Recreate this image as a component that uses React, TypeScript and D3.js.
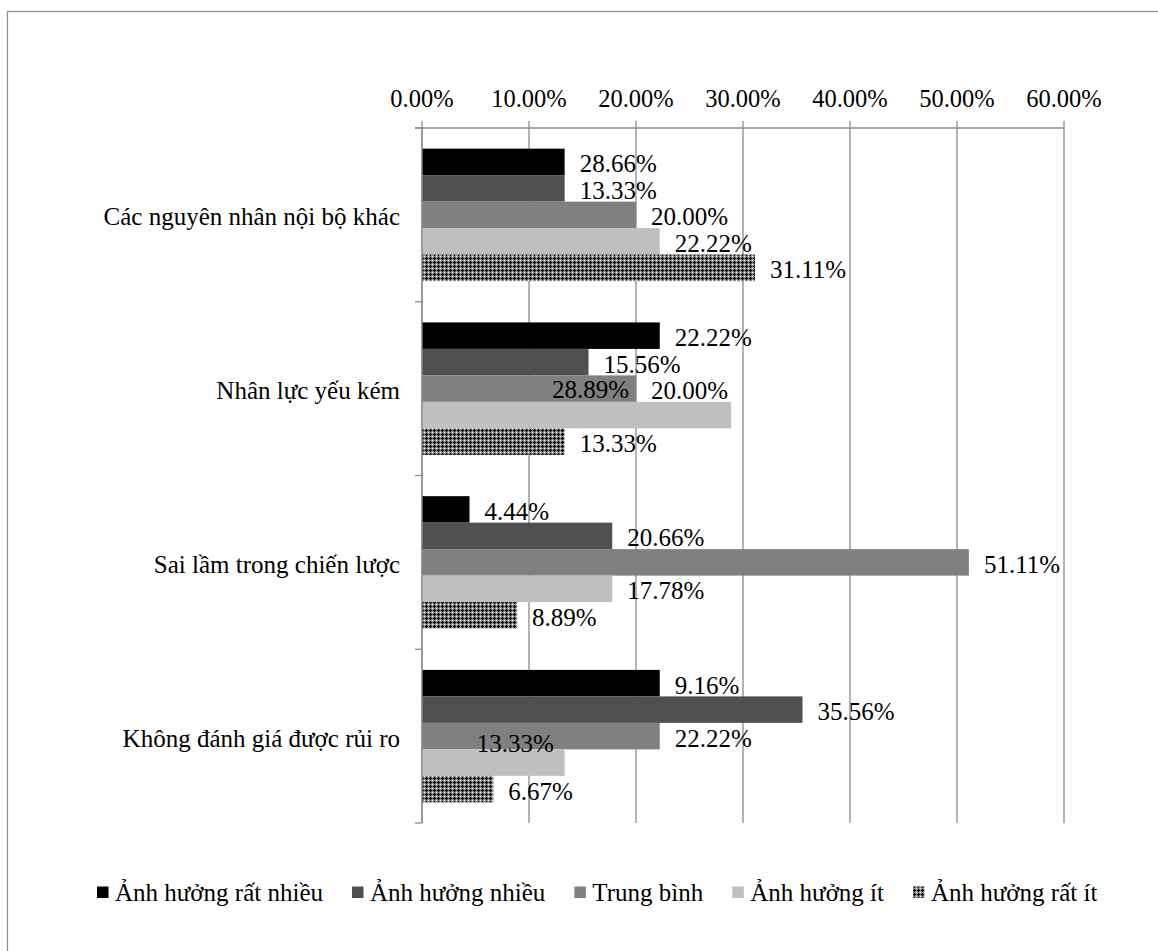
import React, { useEffect, useRef } from 'react';
import * as d3 from 'd3';

// categories top -> bottom
const categories = [
  'Các nguyên nhân nội bộ khác',
  'Nhân lực yếu kém',
  'Sai lầm trong chiến lược',
  'Không đánh giá được rủi ro',
];

const seriesNames = [
  'Ảnh hưởng rất nhiều',
  'Ảnh hưởng nhiều',
  'Trung bình',
  'Ảnh hưởng ít',
  'Ảnh hưởng rất ít',
];

// bar lengths (fraction), one array per series, same order as categories
const veryMuch = [0.1333, 0.2222, 0.0444, 0.2222];
const much = [0.1333, 0.1556, 0.1778, 0.3556];
const medium = [0.2, 0.2, 0.5111, 0.2222];
const little = [0.2222, 0.2889, 0.1778, 0.1333];
const veryLittle = [0.3111, 0.1333, 0.0889, 0.0667];

// data labels as printed in the source chart (they do not always match the bars)
const veryMuchLabels = ['28.66%', '22.22%', '4.44%', '9.16%'];
const muchLabels = ['13.33%', '15.56%', '20.66%', '35.56%'];
const mediumLabels = ['20.00%', '20.00%', '51.11%', '22.22%'];
const littleLabels = ['22.22%', '28.89%', '17.78%', '13.33%'];
const veryLittleLabels = ['31.11%', '13.33%', '8.89%', '6.67%'];

const xTicks = [0, 0.1, 0.2, 0.3, 0.4, 0.5, 0.6];

const seriesValues = [veryMuch, much, medium, little, veryLittle];
const seriesLabels = [veryMuchLabels, muchLabels, mediumLabels, littleLabels, veryLittleLabels];
const fills = ['#000000', '#505050', '#808080', '#bfbfbf', 'url(#dots)'];

// a couple of labels were dragged by hand in the original
const labelShift: Record<string, [number, number]> = {
  '1-3': [-194, -28],
  '3-3': [-103, -21],
};

const FONT = '"Liberation Serif", "Times New Roman", serif';

const App: React.FC = () => {
  const svgRef = useRef<SVGSVGElement>(null);

  useEffect(() => {
    document.body.style.margin = '0';
    if (!svgRef.current) return;

    const width = 1158;
    const height = 951;
    const plot = { left: 422, right: 1064, top: 128, bottom: 823 };

    const svg = d3.select(svgRef.current);
    svg.selectAll('*').remove();

    // dotted diamond pattern (black crosses, light specks)
    const defs = svg.append('defs');
    const pat = defs.append('pattern')
      .attr('id', 'dots')
      .attr('patternUnits', 'userSpaceOnUse')
      .attr('width', 4)
      .attr('height', 4);
    pat.append('rect').attr('width', 4).attr('height', 4).attr('fill', '#8a8a8a');
    pat.append('rect').attr('x', 1).attr('y', 2).attr('width', 3).attr('height', 1).attr('fill', '#000000');
    pat.append('rect').attr('x', 2).attr('y', 1).attr('width', 1).attr('height', 3).attr('fill', '#000000');
    pat.append('rect').attr('x', 0).attr('y', 0).attr('width', 1).attr('height', 1).attr('fill', '#ffffff');

    svg.append('rect')
      .attr('width', width)
      .attr('height', height)
      .attr('fill', '#ffffff');

    // outer chart border (only top and left visible)
    svg.append('rect')
      .attr('x', 7.5)
      .attr('y', 11.5)
      .attr('width', width + 20)
      .attr('height', height + 20)
      .attr('fill', 'none')
      .attr('stroke', '#8c8c8c')
      .attr('stroke-width', 1.2);

    const x = d3.scaleLinear().domain([0, 0.6]).range([plot.left, plot.right]);
    const y = d3.scaleBand<string>().domain(categories).range([plot.top, plot.bottom]);
    const inner = d3.scaleBand<number>()
      .domain(d3.range(seriesNames.length))
      .range([0, y.bandwidth()])
      .paddingInner(0)
      .paddingOuter(0.78);

    // gridlines + top tick marks
    svg.append('g')
      .selectAll('line')
      .data(xTicks)
      .join('line')
      .attr('x1', d => x(d))
      .attr('x2', d => x(d))
      .attr('y1', plot.top - 7)
      .attr('y2', plot.bottom)
      .attr('stroke', '#8c8c8c')
      .attr('stroke-width', 1.3);

    // tick labels on top
    svg.append('g')
      .selectAll('text')
      .data(xTicks)
      .join('text')
      .attr('x', d => x(d))
      .attr('y', 107)
      .attr('text-anchor', 'middle')
      .style('font-family', FONT)
      .style('font-size', '24.5px')
      .attr('fill', '#000')
      .text(d => (d * 100).toFixed(2) + '%');

    // bars
    seriesValues.forEach((vals, si) => {
      svg.append('g')
        .selectAll('rect')
        .data(vals)
        .join('rect')
        .attr('x', x(0))
        .attr('y', (_, ci) => (y(categories[ci]) || 0) + (inner(si) || 0))
        .attr('width', d => x(d) - x(0))
        .attr('height', inner.bandwidth())
        .attr('fill', fills[si]);
    });

    // horizontal axis line at top
    svg.append('line')
      .attr('x1', plot.left - 7)
      .attr('x2', plot.right)
      .attr('y1', plot.top)
      .attr('y2', plot.top)
      .attr('stroke', '#8c8c8c')
      .attr('stroke-width', 1.3);

    // vertical category axis with ticks between groups
    svg.append('line')
      .attr('x1', plot.left)
      .attr('x2', plot.left)
      .attr('y1', plot.top)
      .attr('y2', plot.bottom)
      .attr('stroke', '#8c8c8c')
      .attr('stroke-width', 1.3);
    const bounds = categories.map(c => y(c) || 0).concat([plot.bottom]);
    svg.append('g')
      .selectAll('line')
      .data(bounds)
      .join('line')
      .attr('x1', plot.left - 7)
      .attr('x2', plot.left)
      .attr('y1', d => d)
      .attr('y2', d => d)
      .attr('stroke', '#8c8c8c')
      .attr('stroke-width', 1.3);

    // category labels
    svg.append('g')
      .selectAll('text')
      .data(categories)
      .join('text')
      .attr('x', plot.left - 22)
      .attr('y', d => (y(d) || 0) + y.bandwidth() / 2 + 2)
      .attr('dominant-baseline', 'central')
      .attr('text-anchor', 'end')
      .style('font-family', FONT)
      .style('font-size', '25px')
      .attr('fill', '#000')
      .text(d => d);

    // data labels
    seriesValues.forEach((vals, si) => {
      svg.append('g')
        .selectAll('text')
        .data(vals)
        .join('text')
        .attr('x', (d, ci) => x(d) + 15 + (labelShift[`${ci}-${si}`]?.[0] || 0))
        .attr('y', (_, ci) => (y(categories[ci]) || 0) + (inner(si) || 0) + inner.bandwidth() / 2 + 2 + (labelShift[`${ci}-${si}`]?.[1] || 0))
        .attr('dominant-baseline', 'central')
        .style('font-family', FONT)
        .style('font-size', '25px')
        .attr('fill', '#000')
        .text((_, ci) => seriesLabels[si][ci]);
    });

    // legend, laid out left to right
    const legend = svg.append('g');
    let lx = 97;
    seriesNames.forEach((name, si) => {
      legend.append('rect')
        .attr('x', lx)
        .attr('y', 886.5)
        .attr('width', 11.5)
        .attr('height', 11.5)
        .attr('fill', fills[si]);
      const t = legend.append('text')
        .attr('x', lx + 18)
        .attr('y', 901)
        .style('font-family', FONT)
        .style('font-size', '25px')
        .attr('fill', '#000')
        .text(name);
      const w = (t.node() as SVGTextElement).getComputedTextLength();
      lx = lx + 18 + w + 29;
    });
  }, []);

  return <svg ref={svgRef} width={1158} height={951} style={{ display: 'block' }} />;
};

export default App;
